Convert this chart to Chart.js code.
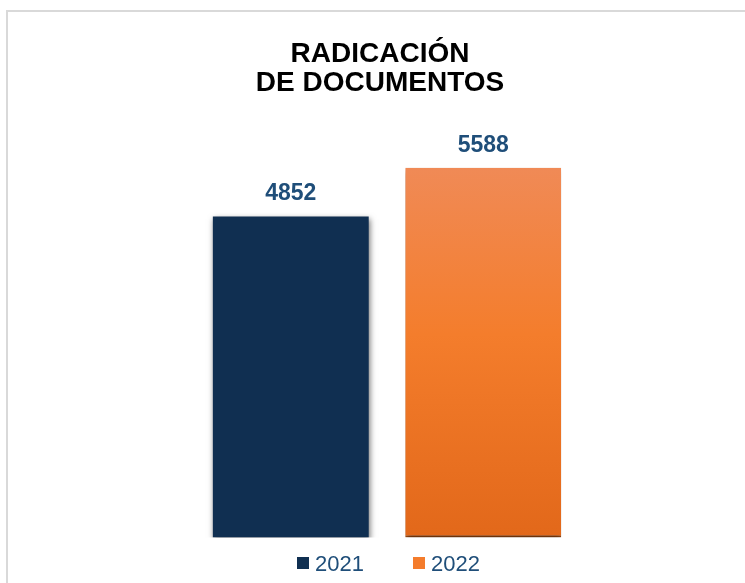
<!DOCTYPE html>
<html>
<head>
<meta charset="utf-8">
<script src="https://cdn.jsdelivr.net/npm/chart.js@4"></script>
<style>
  html, body { margin: 0; padding: 0; background: #fff; overflow: hidden; }
  #frame { position: absolute; left: 6px; top: 10px; width: 800px; height: 700px;
           border-left: 2px solid #d9d9d9; border-top: 2px solid #d9d9d9; }
  #myChart { position: absolute; left: 0; top: 0; }
</style>
</head>
<body>
<div id="frame"></div>
<canvas id="myChart" width="745" height="583"></canvas>
<script>
var titleLines = ["RADICACIÓN", "DE DOCUMENTOS"];
var categories = ["Radicación de documentos"];
var seriesNames = ["2021", "2022"];
var values2021 = [4852];
var values2022 = [5588];

var NAVY = "#102f51";
var ORANGE = "#f47c2c";
var TEXT_BLUE = "#1f4e79";

function orangeFill(c) {
    var chart = c.chart;
    if (!chart.chartArea) return ORANGE;
    var top = chart.scales.y.getPixelForValue(c.raw);
    var g = chart.ctx.createLinearGradient(0, top, 0, chart.chartArea.bottom);
    g.addColorStop(0, "#f08a56");
    g.addColorStop(0.45, "#f47d2c");
    g.addColorStop(1, "#e2681a");
    return g;
}

// sombra de las barras, etiquetas, titulo y leyenda
var extras = {
    id: "extras",
    beforeDatasetsDraw: function(chart) {
        var ctx = chart.ctx;
        ctx.save();
        ctx.shadowColor = "rgba(0,0,0,0.55)";
        ctx.shadowBlur = 6;
        ctx.shadowOffsetX = 1;
        ctx.shadowOffsetY = 3;
    },
    afterDatasetsDraw: function(chart) {
        var ctx = chart.ctx;
        ctx.restore();

        ctx.save();
        ctx.fillStyle = TEXT_BLUE;
        ctx.font = "bold 23px 'Liberation Sans', Arial, sans-serif";
        ctx.textAlign = "center";
        ctx.textBaseline = "alphabetic";
        chart.data.datasets.forEach(function(ds, i) {
            chart.getDatasetMeta(i).data.forEach(function(bar, j) {
                ctx.fillText(String(ds.data[j]), bar.x, bar.y - 16);
            });
        });
        ctx.restore();
    },
    afterDraw: function(chart) {
        var ctx = chart.ctx;
        ctx.save();
        ctx.fillStyle = "#000";
        ctx.font = "bold 28px 'Liberation Sans', Arial, sans-serif";
        ctx.textAlign = "center";
        ctx.fillText(titleLines[0], 380, 62);
        ctx.fillText(titleLines[1], 380, 91);

        // leyenda
        ctx.font = "22px 'Liberation Sans', Arial, sans-serif";
        ctx.textAlign = "left";
        var items = [{ x: 297, color: NAVY }, { x: 413, color: ORANGE }];
        items.forEach(function(it, i) {
            ctx.fillStyle = it.color;
            ctx.fillRect(it.x, 557, 12, 12);
            ctx.fillStyle = TEXT_BLUE;
            ctx.fillText(chart.data.datasets[i].label, it.x + 18, 571);
        });
        ctx.restore();
    }
};

var myChart = new Chart(document.getElementById("myChart"), {
    type: "bar",
    data: {
        labels: categories,
        datasets: [
            {
                label: seriesNames[0],
                data: values2021,
                backgroundColor: NAVY,
                borderWidth: 0
            },
            {
                label: seriesNames[1],
                data: values2022,
                backgroundColor: orangeFill,
                borderColor: "#c05a14",
                borderWidth: { top: 0, left: 0, right: 0, bottom: 2 },
                borderSkipped: false
            }
        ]
    },
    options: {
        responsive: false,
        animation: false,
        layout: { padding: { top: 114, bottom: 45.5, left: 30, right: 1 } },
        datasets: { bar: { categoryPercentage: 0.539, barPercentage: 0.81 } },
        scales: {
            x: { display: false },
            y: { display: false, min: 0, max: 6400 }
        },
        plugins: {
            legend: { display: false },
            title: { display: false },
            tooltip: { enabled: false }
        }
    },
    plugins: [extras]
});
</script>
</body>
</html>
